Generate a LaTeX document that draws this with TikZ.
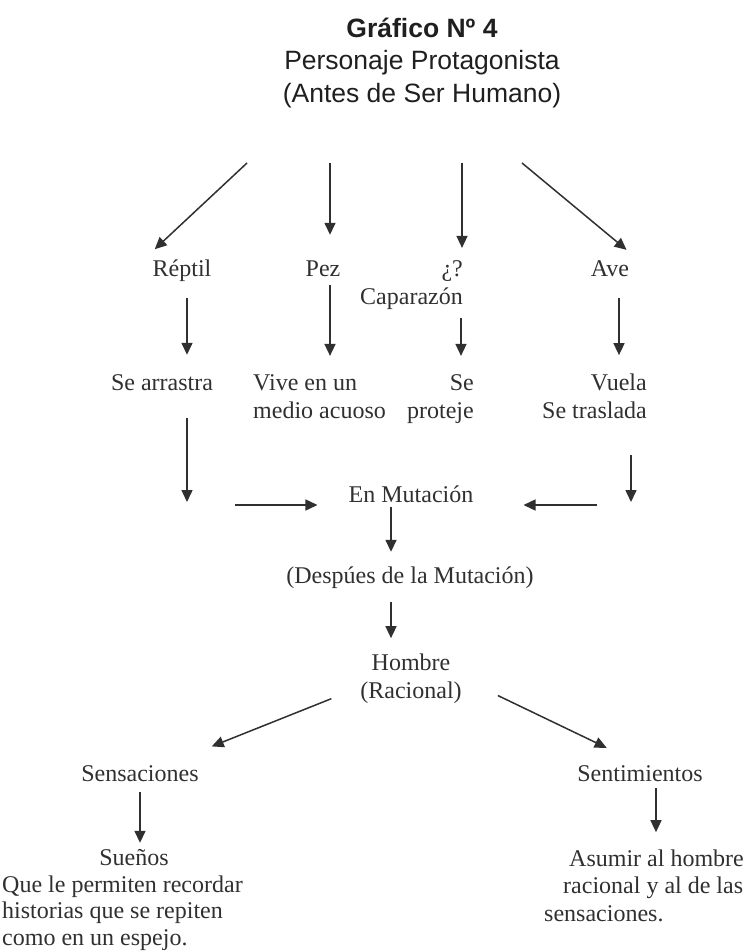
\documentclass[tikz,border=0pt]{standalone}
\usepackage{fontspec}
\setmainfont{Liberation Serif}
\newfontfamily\titlefont{Liberation Sans}
\usetikzlibrary{arrows.meta}
\definecolor{tinta}{RGB}{48,48,48}

\begin{document}
\begin{tikzpicture}[x=1pt, y=-1pt,
  font=\fontsize{24}{28}\selectfont, text=tinta,
  lbl/.style={inner sep=0pt, anchor=base, text height=17pt, text depth=5pt},
  bloque/.style={inner sep=0pt, anchor=base},
  flecha/.style={draw=tinta, line width=1.5pt, -{Triangle[length=12pt,width=11pt]}}]

\useasboundingbox (0,0) rectangle (752,952);

% titulo (base = ultima linea)
\node[bloque, align=center, text=black!88, font=\titlefont\fontsize{26.5}{32.5}\selectfont] (titulo) at (422,102.5)
  {\textbf{Gráfico Nº 4}\\Personaje Protagonista\\(Antes de Ser Humano)};

% primera fila
\node[lbl] (reptil) at (182,276) {Réptil};
\node[lbl] (pez) at (323,276) {Pez};
\node[bloque, align=right, anchor=base east] (cap) at (463,304) {¿?\\Caparazón};
\node[lbl] (ave) at (610,276) {Ave};

% segunda fila
\node[lbl] (arrastra) at (162,390) {Se arrastra};
\node[bloque, align=left, anchor=base west] (vive) at (253,418) {Vive en un\\medio acuoso};
\node[bloque, align=right, anchor=base east] (protege) at (474,418) {Se\\proteje};
\node[bloque, align=right, anchor=base east] (vuela) at (647,418) {Vuela\\Se traslada};

% centro
\node[lbl] (mutacion) at (411,502) {En Mutación};
\node[lbl] (despues) at (410,583) {(Despúes de la Mutación)};
\node[bloque, align=center] (hombre) at (411,698) {Hombre\\(Racional)};

% abajo
\node[lbl] (sensaciones) at (140,781) {Sensaciones};
\node[lbl] (sentimientos) at (640,781) {Sentimientos};
\node[lbl] (suenos) at (134,865) {Sueños};
\node[bloque, align=left, anchor=base west, font=\fontsize{24}{26.5}\selectfont] (recordar) at (2,945)
  {Que le permiten recordar\\historias que se repiten\\como en un espejo.};
\node[bloque, align=left, anchor=base west, font=\fontsize{24}{27.5}\selectfont] (asumir) at (544,921)
  {\hspace*{25pt}Asumir al hombre\\\hspace*{19pt}racional y al de las\\sensaciones.};

% puntos libres y columnas
\coordinate (o1) at (247,163);
\coordinate (o2) at (330,163);
\coordinate (o3) at (462,163);
\coordinate (o4) at (522,163);
\coordinate (xr) at (187,0);
\coordinate (xp) at (330,0);
\coordinate (xc) at (461,0);
\coordinate (xa) at (619,0);
\coordinate (xv) at (631,0);
\coordinate (xm) at (391,0);
\coordinate (xs) at (140,0);
\coordinate (xt) at (656,0);
\coordinate (j1) at (187,502);
\coordinate (j2) at (631,502);
\coordinate (h1) at (235,505);
\coordinate (h2) at (597,505);

\draw[flecha, shorten >=14pt] (o1) -- ([xshift=-8pt]reptil.north west);
\draw[flecha, shorten >=24pt] (o2) -- (o2 |- pez.north);
\draw[flecha, shorten >=12pt] (o3) -- (o3 |- cap.north);
\draw[flecha, shorten >=14pt] (o4) -- ([xshift=8pt]ave.north east);

\draw[flecha, shorten <=17pt, shorten >=18pt] (xr |- reptil.south) -- (xr |- arrastra.north);
\draw[flecha, shorten <=4pt, shorten >=18pt] (xp |- pez.south) -- (xp |- vive.north);
\draw[flecha, shorten <=9pt, shorten >=18pt] (xc |- cap.south) -- (xc |- protege.north);
\draw[flecha, shorten <=17pt, shorten >=18pt] (xa |- ave.south) -- (xa |- vuela.north);

\draw[flecha, shorten <=23pt] (xr |- arrastra.south) -- (j1);
\draw[flecha, shorten >=31pt] (h1) -- (h1 -| mutacion.west);
\draw[flecha, shorten <=37pt] (xv |- vuela.south) -- (j2);
\draw[flecha, shorten >=50pt] (h2) -- (h2 -| mutacion.east);

\draw[flecha, shorten >=14pt] (xm |- mutacion.south) -- (xm |- despues.north);
\draw[flecha, shorten <=14pt, shorten >=15pt] (xm |- despues.south) -- (xm |- hombre.north);
\draw[flecha, shorten <=31pt, shorten >=47pt] (hombre.190) -- (sensaciones);
\draw[flecha, shorten <=40pt, shorten >=37pt] (hombre.east) -- (sentimientos.north);
\draw[flecha, shorten <=6pt, shorten >=5pt] (xs |- sensaciones.south) -- (xs |- suenos.north);
\draw[flecha, shorten <=2pt, shorten >=17pt] (xt |- sentimientos.south) -- (xt |- asumir.north);
\end{tikzpicture}
\end{document}
